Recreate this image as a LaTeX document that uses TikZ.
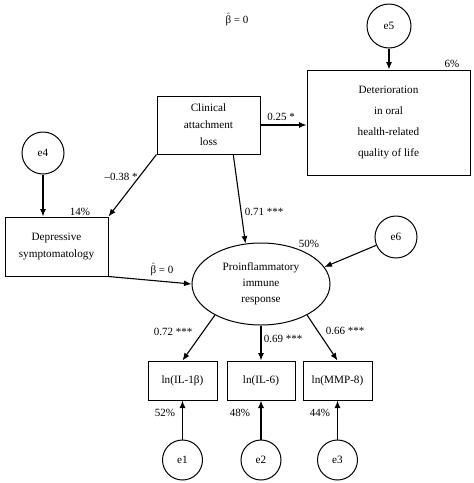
\documentclass[tikz,border=0pt]{standalone}
\usepackage{fontspec}
\setmainfont{Liberation Serif}
\usepackage{tikz}
\usetikzlibrary{arrows.meta,positioning,shapes.geometric}
\newcommand{\bhat}{$\hat{\mbox{β}}$}
\tikzset{
  obsbox/.style={
    draw=black,
    line width=1pt,
    inner sep=0pt,
    align=center,
    font=\fontsize{11.2}{17}\selectfont
  },
  latentvar/.style={
    ellipse,
    draw=black,
    line width=1pt,
    minimum width=138pt,
    minimum height=82pt,
    inner sep=0pt,
    align=center,
    font=\fontsize{11.2}{16}\selectfont
  },
  errvar/.style={
    circle,
    draw=black,
    line width=1pt,
    minimum size=42pt,
    inner sep=0pt,
    font=\fontsize{11.2}{12}\selectfont
  },
  pathline/.style={
    draw=black,
    -{Latex[length=7.5pt,width=6pt]},
    line width=1.1pt
  },
  pathlbl/.style={
    inner sep=1pt,
    font=\fontsize{11}{12}\selectfont
  }
}

\begin{document}
\begin{tikzpicture}[x=1pt,y=-1pt]
  \useasboundingbox (0,0) rectangle (474,483);
  \node[obsbox,minimum width=103pt,minimum height=58pt] (cal) at (208.5,125) {Clinical\\attachment\\loss};
  \node[obsbox,minimum width=163pt,minimum height=105pt,font=\fontsize{11.2}{21}\selectfont] (ohrq) at (388.5,122.5) {Deterioration\\in oral\\health-related\\quality of life};
  \node[obsbox,minimum width=103pt,minimum height=59pt] (dep) at (56.5,246.5) {Depressive\\symptomatology};
  \node[latentvar] (pir) at (261,284) {Proinflammatory\\immune\\response};
  \node[obsbox,minimum width=69pt,minimum height=39pt] (il1) at (182.5,380.5) {ln(IL-1β)};
  \node[obsbox,minimum width=68pt,minimum height=39pt] (il6) at (261,380.5) {ln(IL-6)};
  \node[obsbox,minimum width=69pt,minimum height=39pt] (mmp) at (337.5,380.5) {ln(MMP-8)};
  \node[errvar,minimum size=44pt] (e5) at (389,26) {e5};
  \node[errvar] (e4) at (43,153) {e4};
  \node[errvar] (e6) at (396,237) {e6};
  \node[errvar,minimum size=40pt] (e1) at (182.5,460) {e1};
  \node[errvar,minimum size=40pt] (e2) at (261,460) {e2};
  \node[errvar,minimum size=40pt] (e3) at (337.5,460) {e3};
  % path coefficients and explained variance
  \node[pathlbl] (btop) at (237,19) {\bhat{} = 0};
  \node[pathlbl] (r2ohrq) at (452,64) {6\%};
  \node[pathlbl] (lcalohrq) at (281,117) {0.25 *};
  \node[pathlbl] (lcaldep) at (121,177) {–0.38 *};
  \node[pathlbl] (lcalpir) at (264,212) {0.71 ***};
  \node[pathlbl] (r2dep) at (80,212) {14\%};
  \node[pathlbl] (r2pir) at (309,244) {50\%};
  \node[pathlbl] (ldeppir) at (162,269) {\bhat{} = 0};
  \node[pathlbl] (lil1) at (173,332) {0.72 ***};
  \node[pathlbl] (lil6) at (283,339) {0.69 ***};
  \node[pathlbl] (lmmp) at (345,331) {0.66 ***};
  \node[pathlbl] (r2il1) at (165,413) {52\%};
  \node[pathlbl] (r2il6) at (240,413) {48\%};
  \node[pathlbl] (r2mmp) at (320,413) {44\%};
  % structural paths
  \draw[pathline] (e5.south) -- (e5.south |- ohrq.north);
  \draw[pathline] (cal.east) -- (cal.east -| ohrq.west);
  \draw[pathline] (cal.south west) -- (dep.north east);
  \draw[pathline] (cal.-50) -- (pir.111);
  \draw[pathline] (e4.south) -- (e4.south |- dep.north);
  \draw[pathline] (dep.south east) -- (pir.west);
  \draw[pathline] (e6) -- (pir.15);
  % measurement paths
  \draw[pathline] (pir.-146) -- (il1.north);
  \draw[pathline] (pir.south) -- (il6.north);
  \draw[pathline] (pir.-34) -- (mmp.north);
  \foreach \ev/\ind in {e1/il1,e2/il6,e3/mmp}{\draw[pathline] (\ev) -- (\ind);}
\end{tikzpicture}
\end{document}
